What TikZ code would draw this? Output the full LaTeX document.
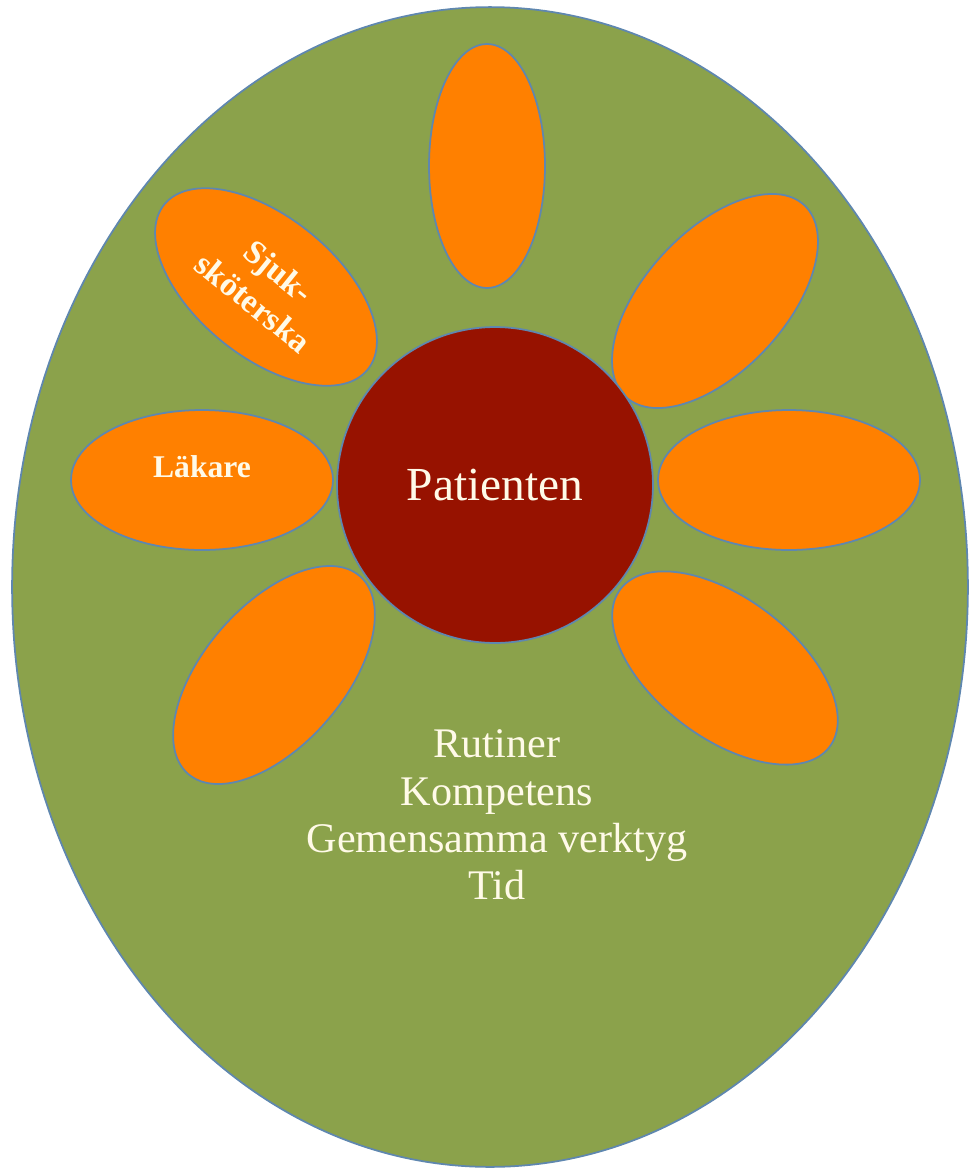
\documentclass[tikz,border=0pt]{standalone}
\usepackage{fontspec}
\setmainfont{Liberation Serif}
\usetikzlibrary{shapes.geometric}
\definecolor{meadow}{RGB}{139,162,75}
\definecolor{petalorange}{RGB}{255,128,0}
\definecolor{heartred}{RGB}{151,18,0}
\definecolor{rim}{RGB}{95,135,175}
\definecolor{cream}{RGB}{255,250,232}
\begin{document}
\begin{tikzpicture}[x=0.02cm,y=-0.02cm,
		rimline/.style={draw=rim, line width=1pt},
		petal/.style={rimline, fill=petalorange, ellipse, inner sep=0pt,
			minimum width=5.24cm, minimum height=2.8cm,
			text=cream, align=center, font=\bfseries\fontsize{18}{22}\selectfont},
	]
	\useasboundingbox (0,0) rectangle (969,1171);

	\node[rimline, fill=meadow, ellipse, inner sep=0pt, minimum width=19.12cm, minimum height=23.2cm] (field) at (490,587) {};

	% petals round the centre
	\node[petal, minimum width=4.88cm, minimum height=2.32cm, rotate=90] (ptop) at (487,166) {};
	\node[petal, rotate=47] (pupright) at (715,301) {};
	\node[petal] (pright) at (789,480) {};
	\node[petal, rotate=-37] (plowright) at (725,668) {};
	\node[petal, rotate=49] (plowleft) at (274,675) {};
	\node[petal, text depth=0.55cm] (lakare) at (202,480) {L\"akare};
	\node[petal, rotate=-39, font=\bfseries\fontsize{19}{23}\selectfont] (sjuk) at (266,287) {Sjuk-\\sk\"oterska};

	\node[rimline, fill=heartred, circle, inner sep=0pt, minimum size=6.32cm, text=cream, font=\fontsize{27}{30}\selectfont] (patient) at (495,485) {Patienten};

	\node[text=cream, align=center, font=\fontsize{24}{27}\selectfont] (needs) at (497,815) {Rutiner\\Kompetens\\Gemensamma verktyg\\Tid};
\end{tikzpicture}
\end{document}
